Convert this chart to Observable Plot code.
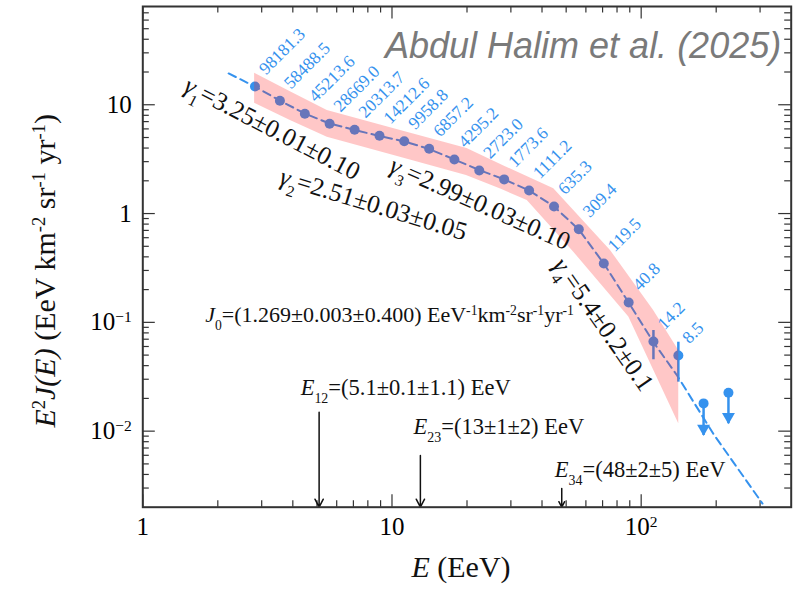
<!DOCTYPE html>
<html><head><meta charset="utf-8">
<script src="https://cdn.jsdelivr.net/npm/d3@7"></script>
<script src="https://cdn.jsdelivr.net/npm/@observablehq/plot@0.6"></script>
<style>html,body{margin:0;padding:0;background:#fff;}#chart{width:794px;height:596px;}</style>
</head><body><div id="chart"></div>
<script>
// ---- data ----
const energy = [2.82,3.55,4.47,5.62,7.08,8.91,11.2,14.1,17.8,22.4,28.2,35.5,44.7,56.2,70.8,89.1,112,141];
const flux   = [14.7,10.9,8.26,6.68,5.89,5.18,4.62,3.94,3.14,2.49,2.06,1.63,1.16,0.718,0.348,0.152,0.0667,0.0496];
const fluxLo = [null,null,null,null,null,null,null,null,null,null,null,null,null,0.70,0.33,0.14,0.0453,0.0282];
const fluxHi = [null,null,null,null,null,null,null,null,null,null,null,null,null,0.74,0.365,0.165,0.0842,0.0657];
const counts = ["98181.3","58488.5","45213.6","28669.0","20313.7","14212.6","9958.8","6857.2","4295.2","2723.0","1773.6","1111.2","635.3","309.4","119.5","40.8","14.2","8.5"];

const ulEnergy = [178, 224];
const ulFlux   = [0.0180, 0.0225];
const ulTip    = [0.00912, 0.0117];

const fitEnergy = [2.21,2.82,3.55,4.47,5.62,7.08,8.91,11.2,14.1,17.8,22.4,28.2,35.5,44.7,56.2,70.8,89.1,112,139.4,195.6,306.8];
const fitFlux   = [19.4,14.7,10.9,8.31,6.72,5.86,5.16,4.60,3.92,3.14,2.51,2.06,1.63,1.16,0.714,0.3475,0.152,0.0657,0.0325,0.00932,0.00216];

const bandLowE = [2.81,3.91,5.50,10.8,19.9,27.3,34.9,52.9,89.2,141.5];
const bandLowF = [10.3,7.17,5.03,3.30,2.24,1.68,1.32,0.458,0.112,0.0117];
const bandUpE  = [2.81,3.91,5.50,11.2,20.0,28.4,44.6,75.3,112,141.5];
const bandUpF  = [19.5,13.2,8.86,5.68,3.96,2.71,1.69,0.458,0.129,0.0551];

const gammaText = ["~{γ}_{1}=3.25±0.01±0.10","~{γ}_{2}=2.51±0.03±0.05","~{γ}_{3}=2.99±0.03±0.10","~{γ}_{4}=5.4±0.2±0.1"];
const gammaE    = [1.49, 3.57, 9.95, 46.6];
const gammaF    = [15.6, 2.22, 2.85, 0.37];
const gammaRot  = [27.5, 17, 24, 55];

const breakText = ["~{E}_{12}=(5.1±0.1±1.1) EeV","~{E}_{23}=(13±1±2) EeV","~{E}_{34}=(48±2±5) EeV"];
const breakE    = [5.1, 13, 48];
const breakTextE = [4.30, 12.2, 45.0];
const breakTextF = [0.0252, 0.0109, 0.00445];
const breakArrowTop = [0.0149, 0.00597, 0.00297];

const j0Text = "~{J}_{0}=(1.269±0.003±0.400) EeV^{-1}km^{-2}sr^{-1}yr^{-1}";
const j0E = 1.78, j0F = 0.116;

const xDomain = [1, 400];
const yDomain = [0.002, 80];
const xTickValues = [1, 10, 100];
const xTickLabels = ["1", "10", "10^{2}"];
const yTickValues = [0.01, 0.1, 1, 10];
const yTickLabels = ["10^{−2}", "10^{−1}", "1", "10"];
const titleText = "Abdul Halim et al. (2025)";
const xTitle = "~{E} (EeV)";
const yTitle = "~{E}^{2}~{J(E)} (EeV km^{-2} sr^{-1} yr^{-1})";

// ---- tables ----
const pts = energy.map((e,i)=>({e, f: flux[i], lo: fluxLo[i], hi: fluxHi[i], c: counts[i]}));
const errs = pts.filter(d=>d.lo!=null);
const uls = ulEnergy.map((e,i)=>({e, f: ulFlux[i], tip: ulTip[i]}));
const fit = fitEnergy.map((e,i)=>({e, f: fitFlux[i]}));
const band = bandLowE.map((e,i)=>({le: e, lf: bandLowF[i], ue: bandUpE[i], uf: bandUpF[i]}));
const gam = gammaText.map((t,i)=>({t, e: gammaE[i], f: gammaF[i], r: gammaRot[i]}));
const brk = breakText.map((t,i)=>({t, e: breakE[i], te: breakTextE[i], tf: breakTextF[i], top: breakArrowTop[i]}));

function minorTicks(lo, hi){ const out=[]; for(let p=Math.floor(Math.log10(lo)); p<=Math.ceil(Math.log10(hi)); p++){ for(let k=2;k<=9;k++){const v=k*Math.pow(10,p); if(v>lo*1.0001 && v<hi*0.9999) out.push(v);} } return out; }
const xMinor = minorTicks(xDomain[0], xDomain[1]);
const yMinor = minorTicks(yDomain[0], yDomain[1]);

const BLUE = "#3592ee";
const H = 596, W = 794, mT = 6, mB = 89.3, mL = 142.3, mR = 3.3;
const innerH = H - mT - mB, innerW = W - mL - mR;
const serif = "'Liberation Serif', 'Times New Roman', serif";

const chart = Plot.plot({
  width: W, height: H,
  marginTop: mT, marginBottom: mB, marginLeft: mL, marginRight: mR,
  x: {type: "log", domain: xDomain},
  y: {type: "log", domain: yDomain},
  style: {fontFamily: serif, background: "white", color: "black"},
  marks: [
    Plot.tickX(xMinor, {x: d=>d, insetTop: innerH-6.5, stroke: "#333", strokeWidth: 1.2}),
    Plot.tickX(xMinor, {x: d=>d, insetBottom: innerH-6.5, stroke: "#333", strokeWidth: 1.2}),
    Plot.tickX(xTickValues, {x: d=>d, insetTop: innerH-12.5, stroke: "#333", strokeWidth: 1.2}),
    Plot.tickX(xTickValues, {x: d=>d, insetBottom: innerH-12.5, stroke: "#333", strokeWidth: 1.2}),
    Plot.tickY(yMinor, {y: d=>d, insetRight: innerW-6.5, stroke: "#333", strokeWidth: 1.2}),
    Plot.tickY(yMinor, {y: d=>d, insetLeft: innerW-6.5, stroke: "#333", strokeWidth: 1.2}),
    Plot.tickY(yTickValues, {y: d=>d, insetRight: innerW-12.5, stroke: "#333", strokeWidth: 1.2}),
    Plot.tickY(yTickValues, {y: d=>d, insetLeft: innerW-12.5, stroke: "#333", strokeWidth: 1.2}),
    Plot.axisX(xTickValues, {tickSize: 0, tickPadding: 10, fontSize: 25, tickFormat: d=>xTickLabels[xTickValues.indexOf(d)], label: null}),
    Plot.axisY(yTickValues, {tickSize: 0, tickPadding: 11, fontSize: 25, tickFormat: d=>yTickLabels[yTickValues.indexOf(d)], label: null}),
    Plot.line(fit, {x: "e", y: "f", stroke: BLUE, strokeWidth: 2, strokeDasharray: "8,5"}),
    Plot.ruleX(errs, {x: "e", y1: "lo", y2: "hi", stroke: BLUE, strokeWidth: 2.5}),
    Plot.dot(pts, {x: "e", y: "f", r: 5, fill: BLUE}),
    Plot.ruleX(uls, {x: "e", y1: "f", y2: "tip", stroke: BLUE, strokeWidth: 2.5}),
    Plot.dot(uls, {x: "e", y: "f", r: 5, fill: BLUE}),
    Plot.dot(uls, {x: "e", y: "tip", symbol: "triangle", rotate: 180, r: 4.8, fill: BLUE, dy: -7}),
    Plot.area(band, {x1: "le", y1: "lf", x2: "ue", y2: "uf", fill: "#ff2020", fillOpacity: 0.25}),
    Plot.text(pts, {x: "e", y: "f", text: "c", rotate: -45, textAnchor: "start", dx: 7, dy: -15, fontSize: 17.5, fill: BLUE}),
    Plot.text(gam, {x: "e", y: "f", text: "t", rotate: "r", textAnchor: "start", fontSize: 25.5, fill: "#111"}),
    Plot.text([j0Text], {x: ()=>j0E, y: ()=>j0F, text: d=>d, textAnchor: "start", fontSize: 22, fill: "#111"}),
    Plot.arrow(brk, {x: "e", y1: "top", y2: ()=>yDomain[0], stroke: "#111", strokeWidth: 1.5, headLength: 9, headAngle: 55}),
    Plot.text(brk, {x: "te", y: "tf", text: "t", textAnchor: "start", fontSize: 22.5, fill: "#111"}),
    Plot.frame({stroke: "#333", strokeWidth: 2}),
    Plot.text([titleText], {frameAnchor: "top-right", dx: -10, dy: 26, text: d=>d, textAnchor: "end", lineAnchor: "top", fontSize: 36, fontStyle: "italic", fontFamily: "'Liberation Sans', Arial, sans-serif", fill: "#7a7a7a"}),
    Plot.text([xTitle], {frameAnchor: "bottom", dy: 70, dx: -6, text: d=>d, textAnchor: "middle", fontSize: 30, fill: "#111"}),
    Plot.text([yTitle], {frameAnchor: "left", dx: -97, dy: 14, rotate: -90, text: d=>d, textAnchor: "middle", fontSize: 30, fill: "#111"})
  ]
});

function rich(svg){
  const NS = "http://www.w3.org/2000/svg";
  svg.querySelectorAll("text").forEach(t=>{
    const s = t.textContent;
    if (!/[\^_~]\{/.test(s)) return;
    while (t.firstChild) t.removeChild(t.firstChild);
    const re = /([\^_~])\{([^}]*)\}/g;
    let last = 0, m;
    const add = (txt, kind) => {
      if (!txt) return;
      const ts = document.createElementNS(NS, "tspan");
      ts.textContent = txt;
      if (kind === "^") { ts.setAttribute("baseline-shift", "super"); ts.setAttribute("font-size", "62%"); }
      else if (kind === "_") { ts.setAttribute("baseline-shift", "sub"); ts.setAttribute("font-size", "62%"); }
      else if (kind === "~") { ts.setAttribute("font-style", "italic"); }
      t.appendChild(ts);
    };
    while ((m = re.exec(s))) { add(s.slice(last, m.index), null); add(m[2], m[1]); last = re.lastIndex; }
    add(s.slice(last), null);
  });
}
rich(chart);
document.getElementById("chart").appendChild(chart);
</script>
</body></html>
